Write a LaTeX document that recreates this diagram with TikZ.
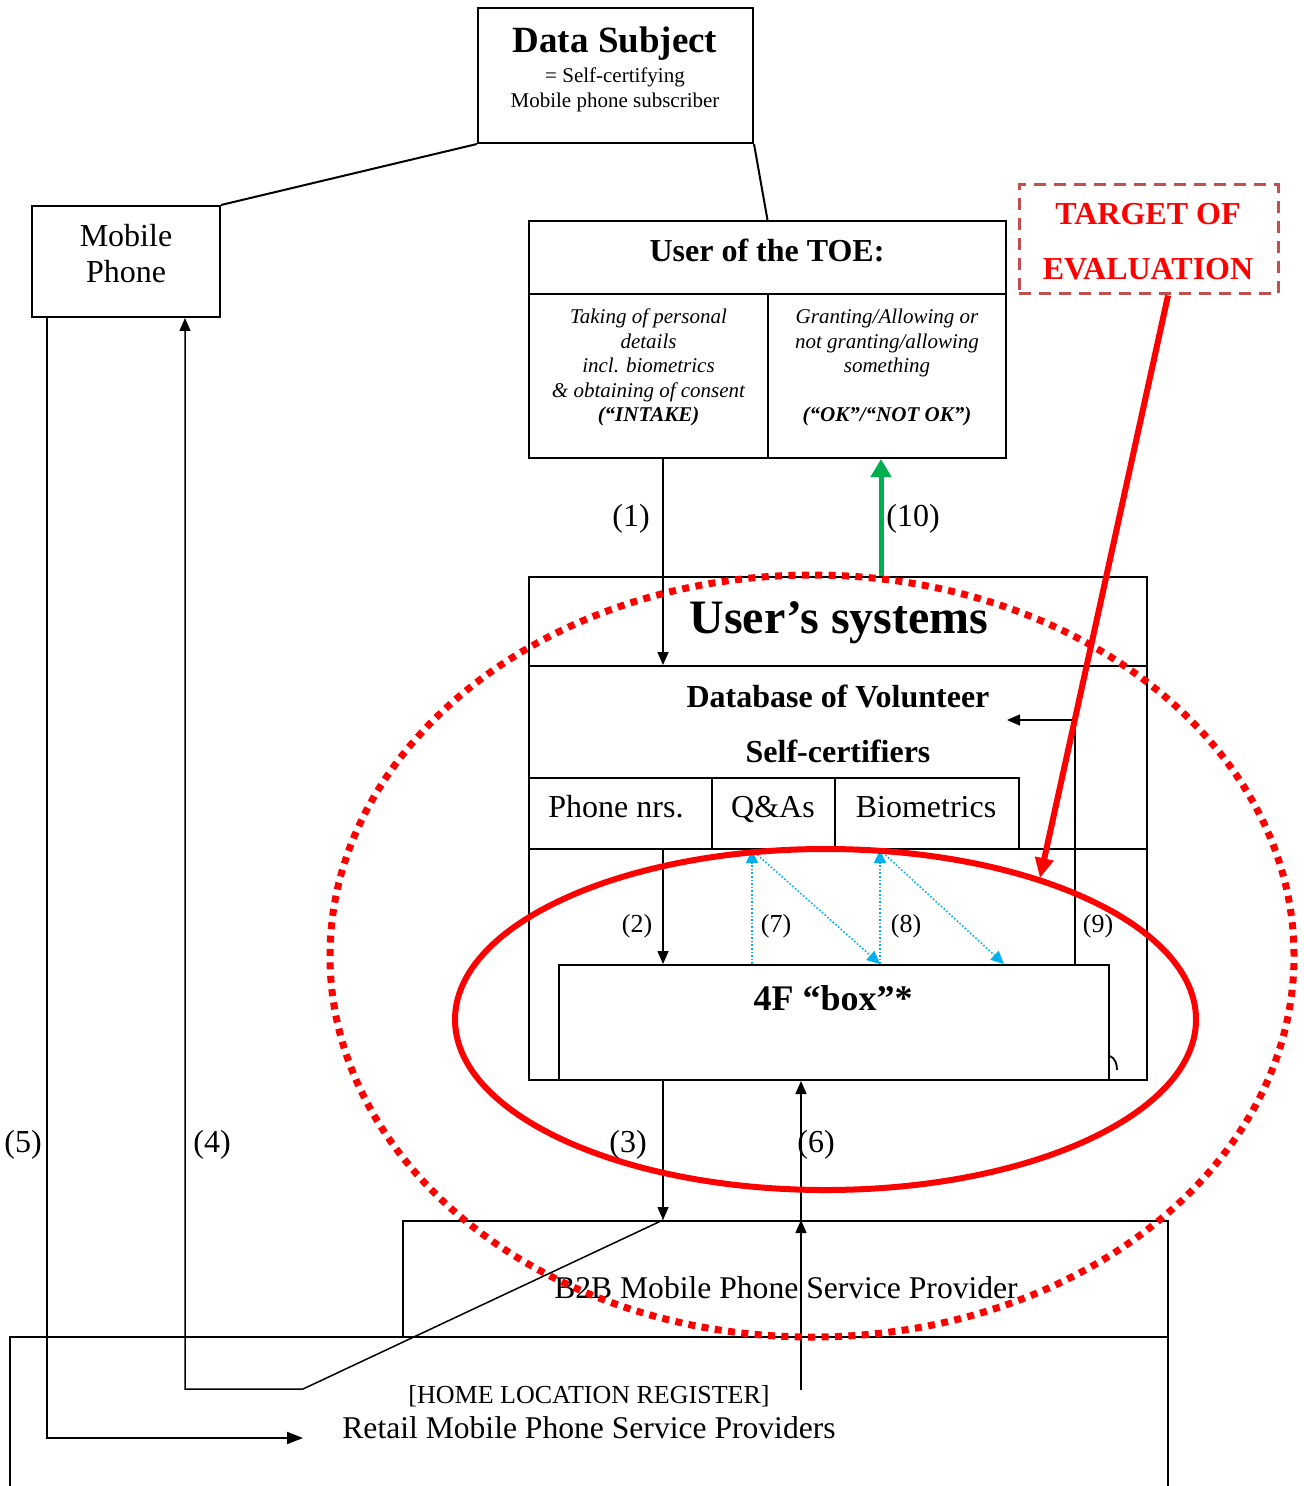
\documentclass[tikz,border=0pt]{standalone}
\usepackage{fontspec}
\setmainfont{Liberation Serif}
\usetikzlibrary{arrows.meta,fit}
\definecolor{tgtc}{HTML}{C0504D}
\definecolor{bluec}{HTML}{00B0F0}
\definecolor{greenc}{HTML}{00B050}
\begin{document}
\begin{tikzpicture}[x=0.5pt,y=-0.5pt,
  box/.style={draw, line width=1pt, inner sep=0pt},
  cline/.style={line width=0.75pt},
  arr/.style={line width=0.75pt, -{Triangle[length=6.5pt,width=5.5pt]}},
  barr/.style={bluec, line width=0.8pt, densely dotted, -{Triangle[length=6.5pt,width=6pt]}},
  garr/.style={greenc, line width=2.5pt, -{Triangle[length=9pt,width=10pt]}},
  redarr/.style={red, line width=3pt, -{Triangle[length=10pt,width=9pt]}},
  txt/.style={anchor=base, inner sep=0pt, font=\fontsize{16}{19}\selectfont},
  btxt/.style={anchor=base, inner sep=0pt, font=\fontsize{16}{19}\selectfont\bfseries},
  itxt/.style={anchor=base, inner sep=0pt, font=\fontsize{10.5}{12}\selectfont\itshape},
  lbl/.style={inner sep=0pt, font=\fontsize{16}{19}\selectfont},
  slbl/.style={inner sep=0pt, font=\fontsize{13}{15}\selectfont}]
\useasboundingbox (0,0) rectangle (1304,1486);

% boxes
\node[box, fit={(478,8) (753,143)}] (ds) {};
\node[box, fit={(32,206) (220,317)}] (mp) {};
\node[box, fit={(529,221) (1006,458)}] (toe) {};
\draw[box] (toe.west |- 0,294) -- (toe.east |- 0,294);
\draw[box] (768,294) -- (toe.south -| 768,0);
\node[draw=tgtc, line width=1.5pt, dash pattern=on 6pt off 4pt, inner sep=0pt, fit={(1019,185) (1278,294)}] (tgt) {};
\node[box, fit={(529,577) (1147,1080)}] (us) {};
\node[box, fit={(529,666) (1147,849)}] (db) {};
\node[box, fit={(529,778) (712,849)}] (cellA) {};
\node[box, fit={(712,778) (835,849)}] (cellB) {};
\node[box, fit={(835,778) (1019,849)}] (cellC) {};
\node[box, fit={(559,965) (1109,1080)}] (ff) {};
\node[box, fit={(403,1221) (1168,1337)}] (b2b) {};
\node[inner sep=0pt, fit={(10,1337) (1168,1486)}] (rt) {};
\draw[line width=1pt] (rt.south west) -- (rt.north west) -- (rt.north east) -- (rt.south east);
\draw[line width=0.9pt] (1110,1056) .. controls (1115,1058) and (1117,1064) .. (1117,1070);

% texts
\node[anchor=base, inner sep=0pt, font=\fontsize{18.5}{21}\selectfont\bfseries] (dst) at (615,53) {Data Subject};
\node[anchor=base, inner sep=0pt, font=\fontsize{10.5}{12}\selectfont] (dss1) at (615,83) {= Self-certifying};
\node[anchor=base, inner sep=0pt, font=\fontsize{10.5}{12}\selectfont] (dss2) at (615,108) {Mobile phone subscriber};
\node[txt] (mp1) at (126,247) {Mobile};
\node[txt] (mp2) at (126,283) {Phone};
\node[btxt] (toet) at (767,262) {User of the TOE:};
\node[itxt] (l1) at (648.5,324) {Taking of personal};
\node[itxt] (l2) at (648.5,348.5) {details};
\node[itxt] (l3) at (648.5,373) {incl. biometrics};
\node[itxt] (l4) at (648.5,397.5) {\& obtaining of consent};
\node[itxt] (l5) at (648.5,422) {\bfseries (“INTAKE)};
\node[itxt] (r1) at (887,324) {Granting/Allowing or};
\node[itxt] (r2) at (887,348.5) {not granting/allowing};
\node[itxt] (r3) at (887,373) {something};
\node[itxt] (r5) at (887,422) {\bfseries (“OK”/“NOT OK”)};
\node[btxt, text=red] (tg1) at (1148,225) {TARGET OF};
\node[btxt, text=red] (tg2) at (1148,280) {EVALUATION};
\node[anchor=base, inner sep=0pt, font=\fontsize{24}{28}\selectfont\bfseries] (ust) at (839,633) {User’s systems};
\node[btxt] (dbt1) at (838,707) {Database of Volunteer};
\node[btxt] (dbt2) at (838,762) {Self-certifiers};
\node[txt] (ca) at (616,817) {Phone nrs.};
\node[txt] (cb) at (773,817) {Q\&As};
\node[txt] (cc) at (926,817) {Biometrics};
\node[anchor=base, inner sep=0pt, font=\fontsize{18}{21}\selectfont\bfseries] (fft) at (833,1010) {4F “box”*};
\node[anchor=base, inner sep=0pt, font=\fontsize{15.8}{18}\selectfont] (b2bt) at (786,1298) {B2B Mobile Phone Service Provider};
\node[anchor=base, inner sep=0pt, font=\fontsize{13}{15}\selectfont] (hlr) at (589,1403) {[HOME LOCATION REGISTER]};
\node[anchor=base, inner sep=0pt, font=\fontsize{15.8}{18}\selectfont] (rtt) at (589,1438) {Retail Mobile Phone Service Providers};

% labels
\node[lbl] (n1) at (631,519) {(1)};
\node[lbl] (n10) at (913,519) {(10)};
\node[slbl] (n2) at (637,926) {(2)};
\node[slbl] (n7) at (776,926) {(7)};
\node[slbl] (n8) at (906,926) {(8)};
\node[slbl] (n9) at (1098,926) {(9)};
\node[lbl] (n3) at (628,1145) {(3)};
\node[lbl] (n6) at (816,1145) {(6)};
\node[lbl] (n4) at (212,1145) {(4)};
\node[lbl] (n5) at (23,1145) {(5)};

% connectors
\draw[line width=1pt] (ds.south west) -- (mp.north east);
\draw[line width=1pt] (ds.south east) -- (toe.north);
\draw[arr] (toe.south -| 663,0) -- (db.north -| 663,0);
\draw[garr] (us.north -| 881,0) -- (toe.south -| 881,0);
\draw[arr] (db.south -| 663,0) -- (ff.north -| 663,0);
\draw[barr] (ff.north -| 752,0) -- (cellB.south -| 752,0);
\draw[barr] (cellB.south -| 752,0) -- (ff.north -| 880,0);
\draw[barr] (ff.north -| 880,0) -- (cellC.south -| 880,0);
\draw[barr] (cellC.south -| 880,0) -- (ff.north -| 1004,0);
\coordinate (c9) at (1075,720);
\coordinate (dbin) at (1007,720);
\draw[arr] (ff.north -| c9) -- (c9) -- (dbin);
\draw[arr] (us.south -| 663,0) -- (b2b.north -| 663,0);
\coordinate (c6) at (801,1390);
\draw[arr] (c6) -- (b2b.north -| c6);
\draw[arr] (b2b.north -| c6) -- (ff.south -| c6);
\coordinate (c4a) at (303,1389);
\coordinate (c4b) at (185,1389);
\draw[arr] (b2b.north -| 663,0) -- (c4a) -- (c4b) -- (mp.south -| c4b);
\coordinate (c5a) at (47,1438);
\coordinate (c5b) at (303,1438);
\draw[line width=1pt, -{Triangle[length=8pt,width=6pt]}] (mp.south -| c5a) -- (c5a) -- (c5b);

% target of evaluation
\draw[red, line width=3.5pt, dash pattern=on 3.5pt off 3.2pt] (812,956) ellipse [x radius=241pt, y radius=190.5pt];
\draw[red, line width=3pt] (825.5,1019.5) ellipse [x radius=185.25pt, y radius=85.25pt];
\draw[redarr] (tgt.south -| 1168,0) -- (1040,878);
\end{tikzpicture}
\end{document}
